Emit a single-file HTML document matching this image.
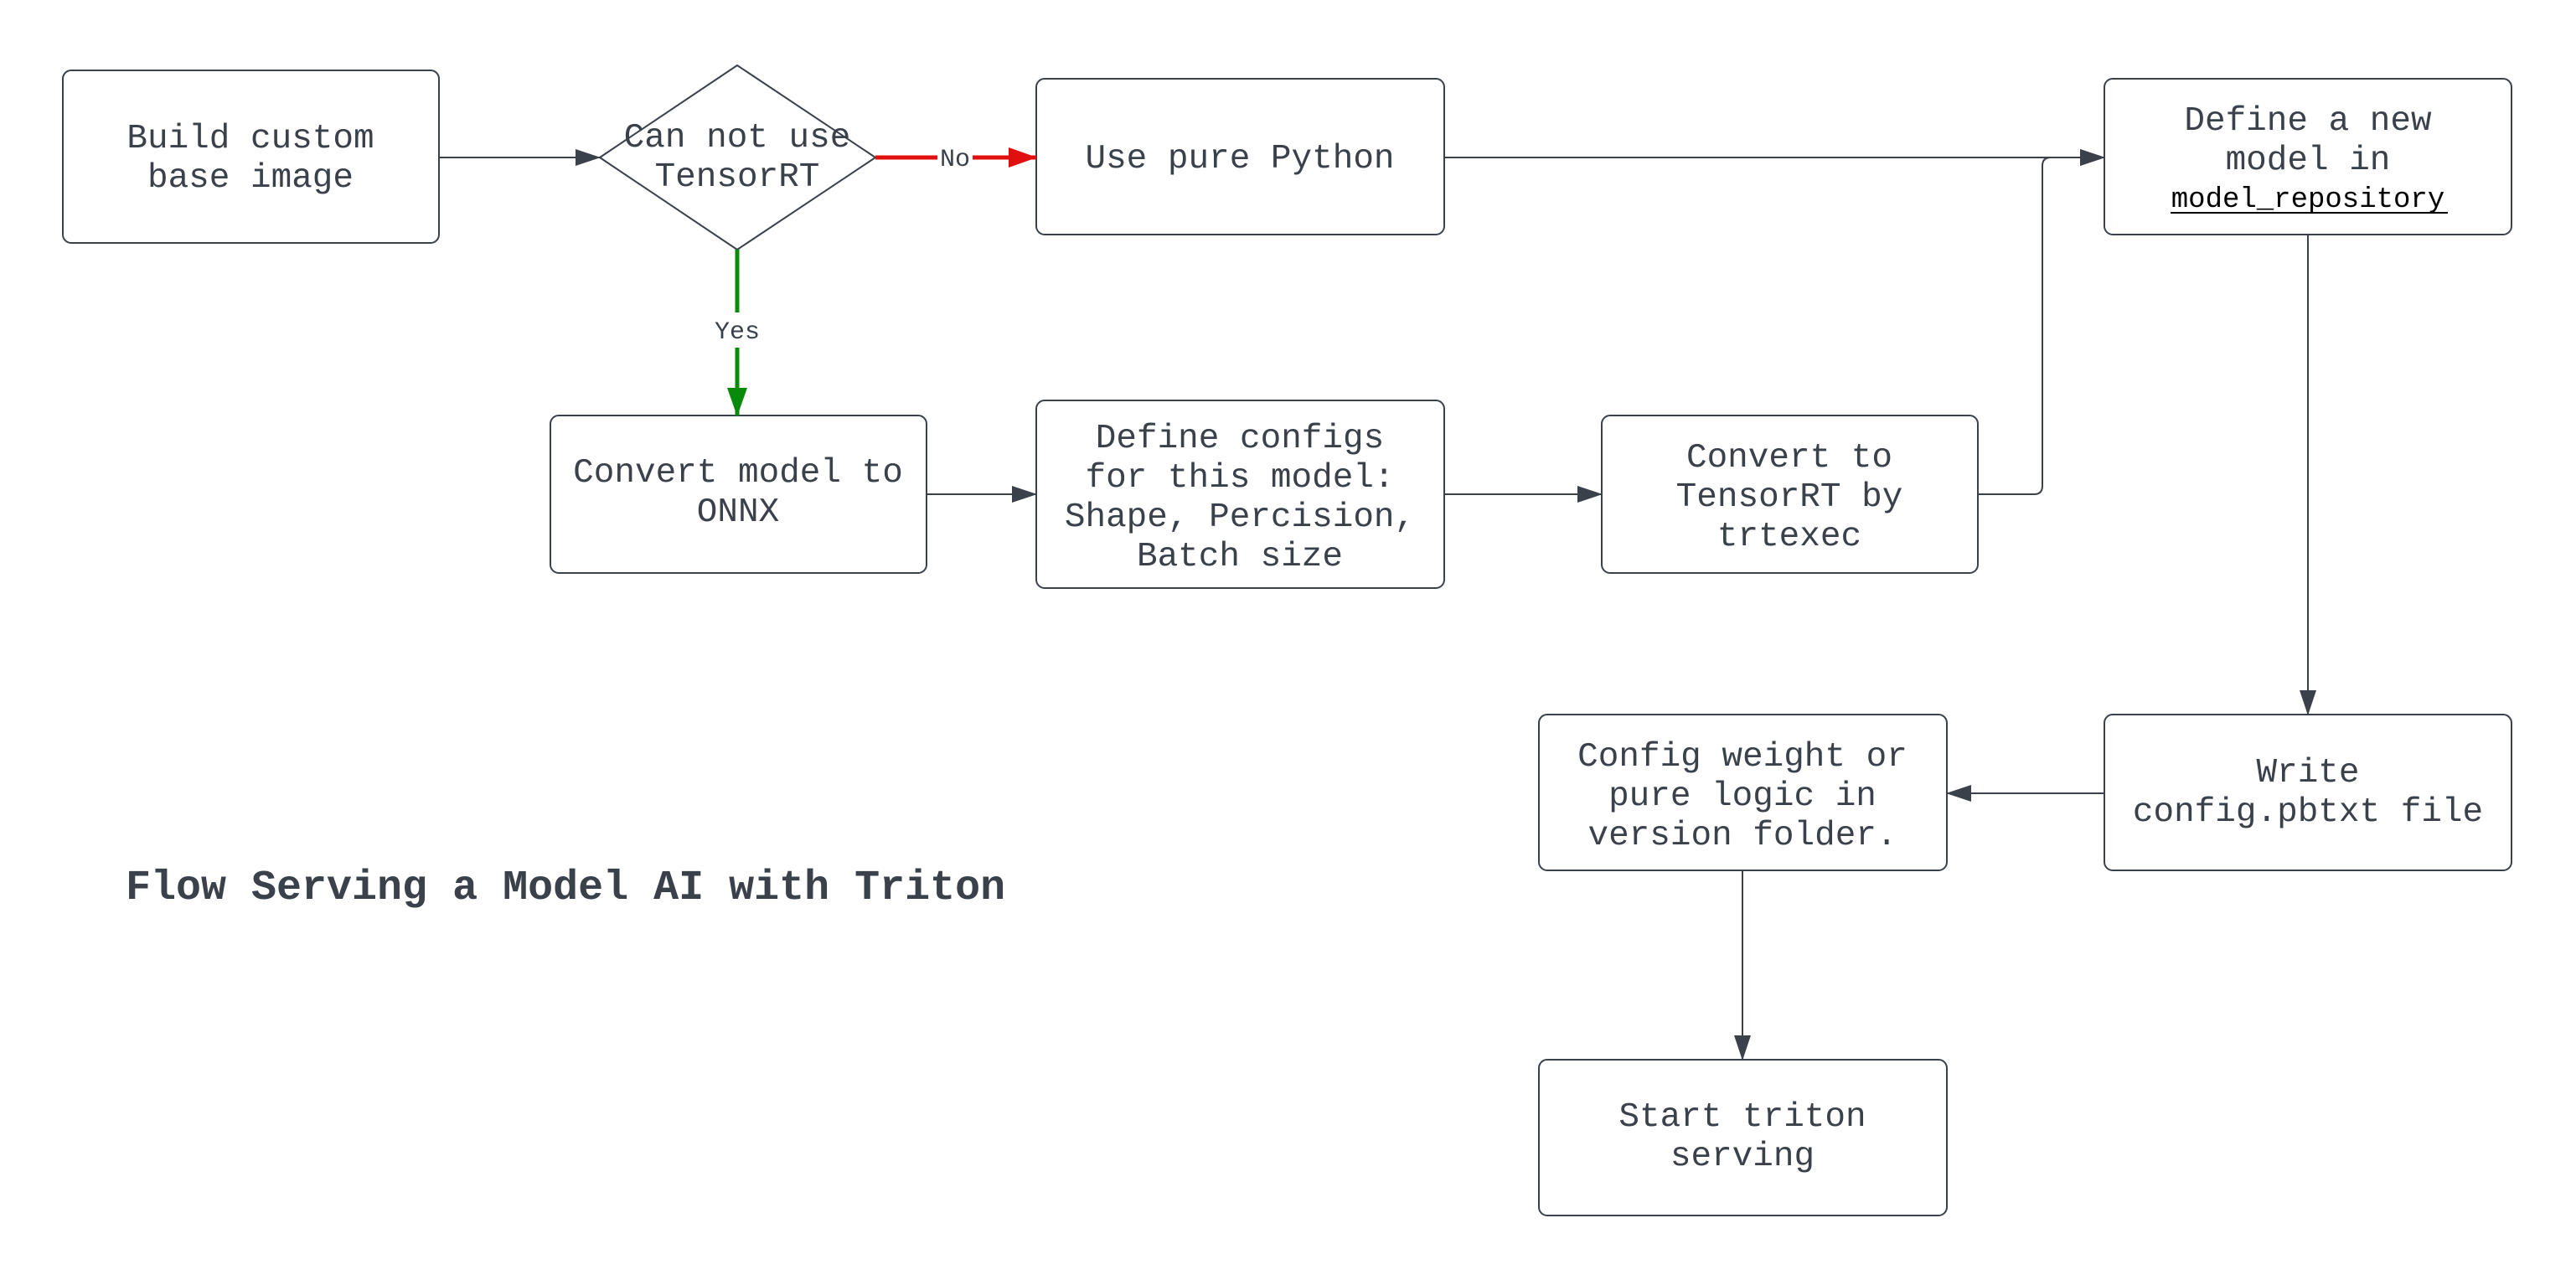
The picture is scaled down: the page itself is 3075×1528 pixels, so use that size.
<!DOCTYPE html>
<html><head><meta charset="utf-8"><style>
html,body{margin:0;padding:0;background:#fff;}
svg{display:block;}
text{font-family:"Liberation Mono",monospace;fill:#3a414a;}
</style></head><body>
<svg width="3075" height="1528" viewBox="0 0 3075 1528" xmlns="http://www.w3.org/2000/svg">
<defs>
<marker id="ab" markerWidth="30" markerHeight="20" refX="29" refY="10" orient="auto" markerUnits="userSpaceOnUse"><path d="M0,0 L30,10 L0,20 z" fill="#3a414a"/></marker>
<marker id="r" markerWidth="34" markerHeight="24" refX="33" refY="12" orient="auto" markerUnits="userSpaceOnUse"><path d="M0,0 L34,12 L0,24 z" fill="#e01010"/></marker>
<marker id="g" markerWidth="34" markerHeight="24" refX="33" refY="12" orient="auto" markerUnits="userSpaceOnUse"><path d="M0,0 L34,12 L0,24 z" fill="#0a8a0a"/></marker>
</defs>
<g fill="#fff" stroke="#3a414a" stroke-width="2">
<rect x="75" y="84" width="449" height="206" rx="10"/>
<path d="M880,78 L1045,188 L880,298 L716,188 Z" stroke-linejoin="round"/>
<rect x="1237" y="94" width="487" height="186" rx="10"/>
<rect x="2512" y="94" width="486" height="186" rx="10"/>
<rect x="657" y="496" width="449" height="188" rx="10"/>
<rect x="1237" y="478" width="487" height="224" rx="10"/>
<rect x="1912" y="496" width="449" height="188" rx="10"/>
<rect x="2512" y="853" width="486" height="186" rx="10"/>
<rect x="1837" y="853" width="487" height="186" rx="10"/>
<rect x="1837" y="1265" width="487" height="186" rx="10"/>
</g>
<g fill="none" stroke="#3a414a" stroke-width="2">
<line x1="524" y1="188" x2="716" y2="188" marker-end="url(#ab)"/>
<line x1="1724" y1="188" x2="2512" y2="188" marker-end="url(#ab)"/>
<path d="M2361,590 L2428,590 Q2438,590 2438,580 L2438,198 Q2438,188 2448,188 L2512,188" marker-end="url(#ab)"/>
<line x1="1106" y1="590" x2="1237" y2="590" marker-end="url(#ab)"/>
<line x1="1724" y1="590" x2="1912" y2="590" marker-end="url(#ab)"/>
<line x1="2755" y1="280" x2="2755" y2="853" marker-end="url(#ab)"/>
<line x1="2512" y1="947" x2="2324" y2="947" marker-end="url(#ab)"/>
<line x1="2080" y1="1039" x2="2080" y2="1265" marker-end="url(#ab)"/>
</g>
<line x1="1045" y1="188" x2="1237" y2="188" stroke="#e01010" stroke-width="5" marker-end="url(#r)"/>
<rect x="1119" y="169" width="42" height="38" fill="#fff"/>
<text x="1140" y="198" font-size="30" text-anchor="middle">No</text>
<line x1="880" y1="298" x2="880" y2="496" stroke="#0a8a0a" stroke-width="5" marker-end="url(#g)"/>
<rect x="845" y="373" width="70" height="42" fill="#fff"/>
<text x="880" y="404" font-size="30" text-anchor="middle">Yes</text>
<g font-size="41" text-anchor="middle">
<text x="299" y="176">Build custom</text>
<text x="299" y="223">base image</text>
<text x="880" y="175">Can not use</text>
<text x="880" y="222">TensorRT</text>
<text x="1480" y="200">Use pure Python</text>
<text x="2755" y="155">Define a new</text>
<text x="2755" y="202">model in</text>
<text x="881" y="575">Convert model to</text>
<text x="881" y="622">ONNX</text>
<text x="1480" y="534">Define configs</text>
<text x="1480" y="581">for this model:</text>
<text x="1480" y="628">Shape, Percision,</text>
<text x="1480" y="675">Batch size</text>
<text x="2136" y="557">Convert to</text>
<text x="2136" y="604">TensorRT by</text>
<text x="2136" y="651">trtexec</text>
<text x="2755" y="933">Write</text>
<text x="2755" y="980">config.pbtxt file</text>
<text x="2080" y="914">Config weight or</text>
<text x="2080" y="961">pure logic in</text>
<text x="2080" y="1008">version folder.</text>
<text x="2080" y="1344">Start triton</text>
<text x="2080" y="1391">serving</text>
</g>
<text x="2755" y="247" font-size="34" text-anchor="middle" style="fill:#000">model_repository</text>
<line x1="2591" y1="254" x2="2922" y2="254" stroke="#000" stroke-width="2"/>
<text x="150" y="1073" font-size="50" font-weight="bold">Flow Serving a Model AI with Triton</text>
</svg>
</body></html>
